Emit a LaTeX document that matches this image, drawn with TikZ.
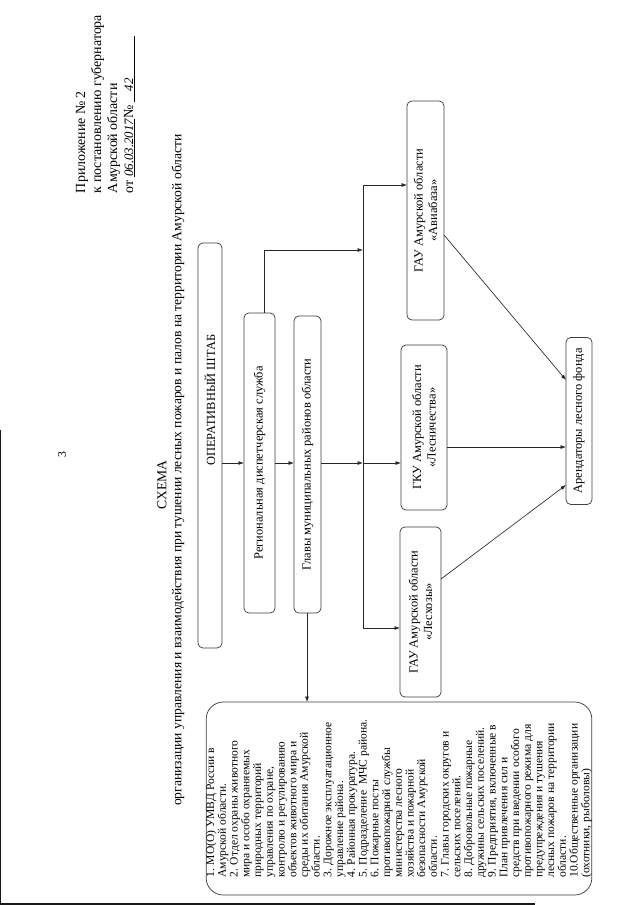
\documentclass[tikz,border=0pt]{standalone}
\usepackage{fontspec}
\setmainfont{Liberation Serif}
\usetikzlibrary{arrows.meta}
\begin{document}
\begin{tikzpicture}[x=0.9339pt,y=-0.9339pt,
  every node/.style={inner sep=0pt, outer sep=0pt},
  box/.style={draw=black!75, line width=0.7pt, rounded corners=4.5pt, rotate=90, align=center,
    font=\fontsize{11.6}{13.6}\selectfont},
  conn/.style={draw=black!85, line width=0.6pt},
  arr/.style={conn, -{Latex[length=5pt,width=3.6pt]}},
  hdr/.style={rotate=90, anchor=base west, font=\fontsize{13}{14}\selectfont},
  ttl/.style={rotate=90, font=\fontsize{12.7}{14}\selectfont},
]
\fill[white] (0,0) rectangle (640,905);
\useasboundingbox (0,0) rectangle (640,905);

% scan edges
\draw[line width=2.2pt, black!90] (0,904) -- (535,904);
\draw[line width=1.4pt, black!90] (0.7,430) -- (0.7,905);

% header
\node[hdr] (h1) at (85,193) {Приложение № 2};
\node[hdr] (h2) at (101,193) {к постановлению губернатора};
\node[hdr] (h3) at (117,193) {Амурской области};
\node[hdr] (h4) at (133,193) {от\ \underline{\makebox[54pt]{\itshape\large 06.03.2017}}№\ \underline{\makebox[62pt]{\hspace{10pt}\itshape\large 42\hfill}}};

\node[rotate=90, font=\fontsize{11}{12}\selectfont] (pg) at (62,455) {3};

\node[ttl] (t1) at (162,485) {СХЕМА};
\node[ttl] (t2) at (178,470) {организации управления и взаимодействия при тушении лесных пожаров и палов на территории Амурской области};

% boxes
\node[box, minimum width=378.2pt, minimum height=22.4pt] (shtab) at (210,445.5) {};
\node[rotate=90, font=\fontsize{11.6}{13}\selectfont] (shtabt) at (210,400) {ОПЕРАТИВНЫЙ ШТАБ};
\node[box, minimum width=280.2pt, minimum height=29pt] (reg) at (259.5,463) {Региональная диспетчерская служба};
\node[box, minimum width=277.4pt, minimum height=25.2pt] (glavy) at (307.5,464.5) {Главы муниципальных районов области};
\node[box, minimum width=204.5pt, minimum height=34.6pt] (avia) at (425.5,210.5) {ГАУ Амурской области\\«Авиабаза»};
\node[box, minimum width=154.1pt, minimum height=43pt] (gku) at (424,427.5) {ГКУ Амурской области\\«Лесничества»};
\node[box, minimum width=158.8pt, minimum height=38.3pt] (les) at (420.5,612) {ГАУ Амурской области\\«Лесхозы»};
\node[box, minimum width=156pt, minimum height=24.3pt] (arend) at (579,421) {Арендаторы лесного фонда};
\node[box, rounded corners=16pt, minimum width=180.2pt, minimum height=358.6pt, align=left,
  font=\fontsize{10.8}{10.95}\selectfont] (list) at (399,798.5) {1. МО(О) УМВД России в\\
Амурской области.\\
2. Отдел охраны животного\\
мира и особо охраняемых\\
природных территорий\\
управления по охране,\\
контролю и регулированию\\
объектов животного мира и\\
среды их обитания Амурской\\
области.\\
3. Дорожное эксплуатационное\\
управление района.\\
4. Районная прокуратура.\\
5. Подразделение\ \ МЧС района.\\
6. Пожарные посты\\
противопожарной службы\\
министерства лесного\\
хозяйства и пожарной\\
безопасности Амурской\\
области.\\
7. Главы городских округов и\\
сельских поселений.\\
8. Добровольные пожарные\\
дружины сельских поселений.\\
9. Предприятия, включенные в\\
План привлечения сил и\\
средств при введении особого\\
противопожарного режима для\\
предупреждения и тушения\\
лесных пожаров на территории\\
области.\\
10.Общественные организации\\
(охотники, рыболовы)};

% helper coordinates
\coordinate (row) at (0,463);
\coordinate (jmid) at (363,463);
\coordinate (btop) at (363,185);
\coordinate (bbot) at (363,628);
\coordinate (rtop) at (264,250);
\coordinate (gcol) at (307,0);
\coordinate (arow) at (0,447);
\coordinate (lrow) at (0,579);
\coordinate (arin2) at (0,485);
\coordinate (avrow) at (0,235);
\coordinate (arin1) at (0,380);

% connectors
\draw[arr] (shtab.south |- row) -- (reg.north |- row);
\draw[arr] (reg.south |- row) -- (glavy.north |- row);
\draw[arr] (glavy.south |- row) -- (jmid);
\draw[conn] (btop) -- (bbot);
\draw[arr] (btop) -- (avia.north |- btop);
\draw[arr] (jmid) -- (gku.north |- jmid);
\draw[arr] (bbot) -- (les.north |- bbot);
\draw[arr] (reg.east -| rtop) -- (rtop) -- (rtop -| btop);
\draw[arr] (glavy.west -| gcol) -- (list.east -| gcol);
\draw[arr] (gku.south |- arow) -- (arend.north |- arow);
\draw[arr] (les.south |- lrow) -- (arend.north |- arin2);
\draw[arr] (avia.south |- avrow) -- (arend.north |- arin1);
\end{tikzpicture}
\end{document}
